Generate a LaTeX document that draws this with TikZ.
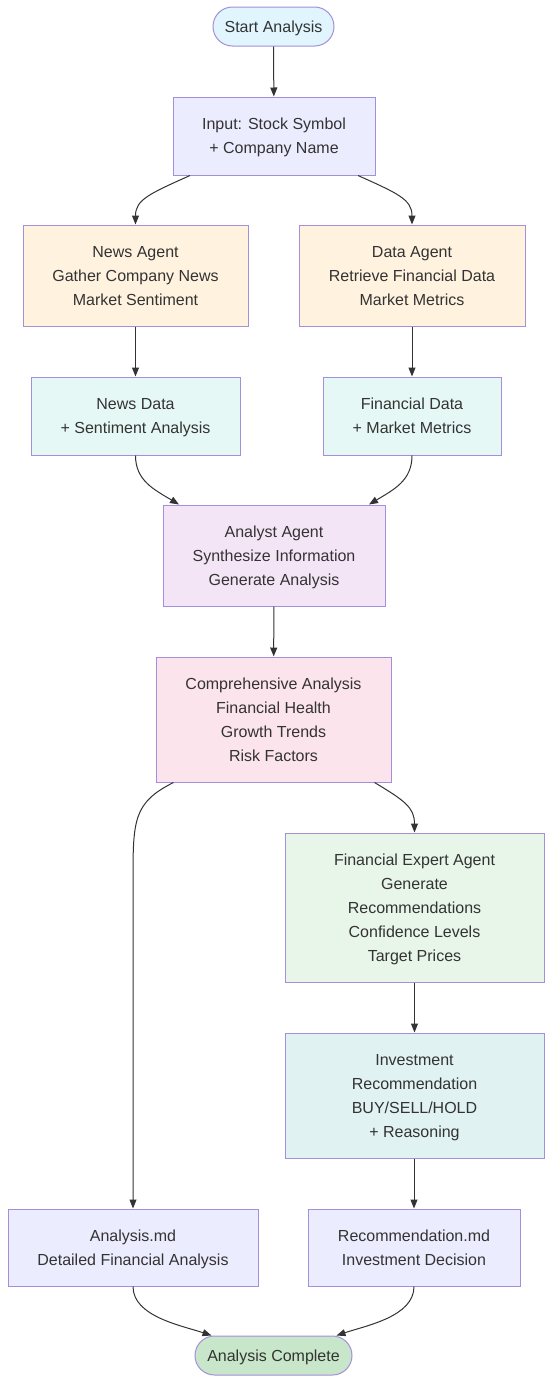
\documentclass[tikz,border=0pt]{standalone}
\usepackage{fontspec}
\setmainfont{Liberation Sans}
\usetikzlibrary{positioning,arrows.meta,shapes.misc}

\definecolor{edge}{HTML}{A48FDB}
\definecolor{ink}{HTML}{333333}
\definecolor{fillstart}{HTML}{E1F5FE}
\definecolor{fillio}{HTML}{ECECFF}
\definecolor{fillagent}{HTML}{FFF3E0}
\definecolor{filldata}{HTML}{E6F8F5}
\definecolor{fillanalyst}{HTML}{F3E5F5}
\definecolor{fillcomp}{HTML}{FCE4EC}
\definecolor{fillexpert}{HTML}{E8F5E9}
\definecolor{fillinvest}{HTML}{E0F2F1}
\definecolor{fillend}{HTML}{C8E6C9}

\newcommand{\boxstrut}{\rule[-6.5pt]{0pt}{24pt}}

\tikzset{
    box/.style={draw=edge, line width=1pt, text=ink, align=center,
        inner sep=0pt, font=\fontsize{16}{24}\selectfont,
        execute at begin node=\boxstrut, text depth=-0.5pt},
    pill/.style={box, rounded rectangle, minimum height=39pt, text depth=6.5pt},
    link/.style={-{Triangle[length=9pt,width=7pt]}, draw=ink, line width=1pt}
}

\begin{document}
\begin{tikzpicture}[x=1pt, y=1pt]
    \useasboundingbox (0,0) rectangle (552,-1384);
    \fill[white] (0,0) rectangle (552,-1384);

    % top of the flow
    \node[pill, fill=fillstart, minimum width=121pt] (S) at (273.5,-26.5) {Start Analysis};
    \node[box, fill=fillio, minimum width=202pt, minimum height=78pt] (I) at (274,-136)
        {Input: Stock Symbol\\+ Company Name};

    % the two gathering agents
    \node[box, fill=fillagent, minimum width=225pt, minimum height=101pt] (N) at (135.5,-275.5)
        {News Agent\\Gather Company News\\Market Sentiment};
    \node[box, fill=fillagent, minimum width=226pt, minimum height=101pt] (D) at (412,-275.5)
        {Data Agent\\Retrieve Financial Data\\Market Metrics};
    \node[box, fill=filldata, minimum width=209pt, minimum height=78pt] (ND) at (135.5,-416)
        {News Data\\+ Sentiment Analysis};
    \node[box, fill=filldata, minimum width=178pt, minimum height=78pt] (FD) at (412,-416)
        {Financial Data\\+ Market Metrics};

    % analysis
    \node[box, fill=fillanalyst, minimum width=222pt, minimum height=101pt] (A) at (274,-555.5)
        {Analyst Agent\\Synthesize Information\\Generate Analysis};
    \node[box, fill=fillcomp, minimum width=235pt, minimum height=125pt] (C) at (273.5,-719.5)
        {Comprehensive Analysis\\Financial Health\\Growth Trends\\Risk Factors};

    % recommendation branch
    \node[box, fill=fillexpert, minimum width=259pt, minimum height=149pt] (E) at (414.5,-907.5)
        {Financial Expert Agent\\Generate\\Recommendations\\Confidence Levels\\Target Prices};
    \node[box, fill=fillinvest, minimum width=259pt, minimum height=125pt] (R) at (414.5,-1095.5)
        {Investment\\Recommendation\\BUY/SELL/HOLD\\+ Reasoning};

    % outputs
    \node[box, fill=fillio, minimum width=250pt, minimum height=77pt] (AM) at (133,-1247.5)
        {Analysis.md\\Detailed Financial Analysis};
    \node[box, fill=fillio, minimum width=212pt, minimum height=77pt] (RM) at (414,-1247.5)
        {Recommendation.md\\Investment Decision};
    \node[pill, fill=fillend, minimum width=157pt] (F) at (273.5,-1355.5) {Analysis Complete};

    \coordinate (bend) at (133,-880);

    % connectors
    \draw[link] (S) -- (I);
    \draw[link] ([xshift=-84pt]I.south) .. controls +(-40,-18) and +(0,25) .. (N.north);
    \draw[link] ([xshift=84pt]I.south) .. controls +(40,-18) and +(0,25) .. (D.north);
    \draw[link] (N) -- (ND);
    \draw[link] (D) -- (FD);
    \draw[link] (ND.south) .. controls +(0,-25) and +(-25,15) .. ([xshift=-95pt]A.north);
    \draw[link] (FD.south) .. controls +(0,-25) and +(25,15) .. ([xshift=95pt]A.north);
    \draw[link] (A) -- (C);
    \draw[link] ([xshift=-100pt]C.south) .. controls +(-40,-20) and +(0,60) .. (bend) -- (AM.north);
    \draw[link] ([xshift=101pt]C.south) .. controls +(30,-18) and +(0,25) .. (E.north);
    \draw[link] (E) -- (R);
    \draw[link] (R.south -| RM.north) -- (RM.north);
    \draw[link] (AM.south) .. controls +(0,-30) and +(-30,10) .. ([xshift=-62pt]F.north);
    \draw[link] (RM.south) .. controls +(0,-30) and +(30,10) .. ([xshift=63pt]F.north);
\end{tikzpicture}
\end{document}
